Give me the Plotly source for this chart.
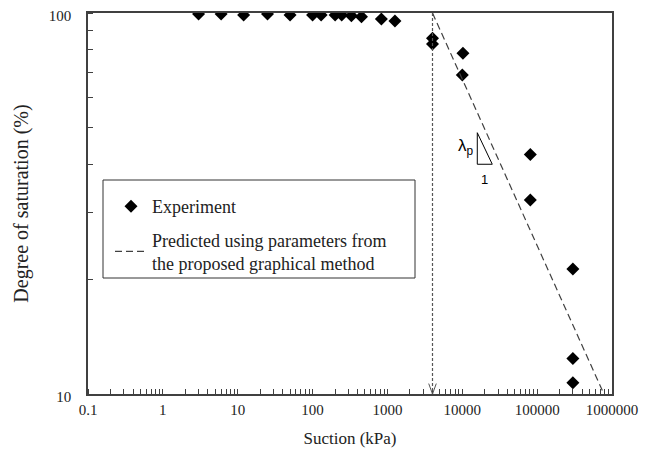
import math
import plotly.graph_objects as go

# ---- data ----
exp_suction = [3, 6, 12, 25, 50, 100, 130, 200, 245, 330, 450, 830, 1260,
               4000, 4000, 10200, 10000, 81000, 81000, 300000, 300000, 300000]
exp_saturation = [99.4, 99.4, 98.8, 99.4, 98.8, 98.8, 98.8, 98.8, 98.8, 98.4, 97.8, 96.4, 95.3,
                  85.8, 82.9, 78.4, 68.7, 42.5, 32.3, 21.3, 12.4, 10.7]
pred_suction = [4000, 780000]
pred_saturation = [100, 10]
aev = 4000
x_tickvals = [0.1, 1, 10, 100, 1000, 10000, 100000, 1000000]
x_ticktext = ["0.1", "1", "10", "100", "1000", "10000", "100000", "1000000"]
y_tickvals = [10, 100]
y_ticktext = ["10", "100"]

serif = "Liberation Serif"
frame = "#404040"
# page body has an 8px default margin, so the figure is sized to compensate
OFF = 8
W, H = 660 - OFF, 456 - OFF
PL, PR, PT, PB = 88, 612, 13, 394          # plot box in window pixels
ML, MT = PL - OFF, PT - OFF
MR, MB = W - (PR - OFF), H - (PB - OFF)
PW, PH = PR - PL, PB - PT


def px_x(px):
    return (px - PL) / PW


def px_y(py):
    return (PB - py) / PH


fig = go.Figure()
fig.add_trace(go.Scatter(
    x=exp_suction, y=exp_saturation, mode="markers", name="Experiment",
    marker=dict(symbol="diamond", size=10, color="black"),
    legendgroup="a"))
fig.add_trace(go.Scatter(
    x=pred_suction, y=pred_saturation, mode="lines",
    name="Predicted using parameters from<br>the proposed graphical method",
    line=dict(color="#404040", width=1.2, dash="7px,4px"),
    legendgroup="b"))

# dotted vertical line at air-entry value with open arrow head
fig.add_shape(type="line", xref="x", yref="y", x0=aev, x1=aev, y0=100, y1=10,
              line=dict(color="#555555", width=1.2, dash="3px,2px"))
fig.add_shape(type="path", xref="x", yref="y",
              path=f"M {aev*0.89},{10.65} L {aev},{10.0} L {aev/0.89},{10.65}",
              line=dict(color="#555555", width=1))

# slope triangle (path uses data values)
tx0, tx1 = 10 ** 4.2005, 10 ** 4.4007
ty0, ty1 = 10 ** 1.6858, 10 ** 1.603
fig.add_shape(type="path", xref="x", yref="y",
              path=f"M {tx0},{ty0} L {tx0},{ty1} L {tx1},{ty1} Z",
              line=dict(color="black", width=1))
fig.add_annotation(x=math.log10(tx0) - 0.02, y=(math.log10(ty0) + math.log10(ty1)) / 2 + 0.004,
                   xref="x", yref="y",
                   text="λ<sub>p</sub>", showarrow=False, xanchor="right",
                   font=dict(family="Liberation Sans", size=17, color="black"))
fig.add_annotation(x=(math.log10(tx0) + math.log10(tx1)) / 2, y=math.log10(ty1) - 0.04,
                   xref="x", yref="y",
                   text="1", showarrow=False,
                   font=dict(family="Liberation Sans", size=13, color="black"))

# legend frame
fig.add_shape(type="rect", xref="paper", yref="paper",
              x0=px_x(103), x1=px_x(415), y0=px_y(278), y1=px_y(180),
              line=dict(color="#333", width=1), fillcolor="white", layer="below")

fig.update_xaxes(type="log", range=[-1, 6], tickvals=x_tickvals, ticktext=x_ticktext,
                 showline=True, linecolor=frame, linewidth=1.5, mirror=True,
                 ticks="", showgrid=False, zeroline=False, automargin=False,
                 ticklabelstandoff=1, ticklabeloverflow="allow",
                 minor=dict(ticks="inside", ticklen=5, tickcolor=frame, dtick="D1", showgrid=False),
                 title=dict(text="Suction (kPa)", font=dict(family=serif, size=17, color="#222")),
                 tickfont=dict(family=serif, size=15, color="#222"))
fig.update_yaxes(type="log", range=[1, 2], tickvals=y_tickvals, ticktext=y_ticktext,
                 showline=True, linecolor=frame, linewidth=1.5, mirror=True,
                 ticks="", showgrid=False, zeroline=False, automargin=False,
                 ticklabelstandoff=12, ticklabeloverflow="allow", ticklabelshift=3,
                 minor=dict(ticks="inside", ticklen=5, tickcolor=frame, dtick="D1", showgrid=False),
                 title=dict(text="Degree of saturation (%)", font=dict(family=serif, size=20, color="#222")),
                 tickfont=dict(family=serif, size=15, color="#222"))

fig.update_layout(
    width=W, height=H,
    margin=dict(l=ML, r=MR, t=MT, b=MB),
    font=dict(family=serif, color="#222"),
    paper_bgcolor="white", plot_bgcolor="white",
    legend=dict(x=px_x(110), y=px_y(188), xanchor="left", yanchor="top",
                borderwidth=0, bgcolor="rgba(0,0,0,0)",
                font=dict(family=serif, size=18, color="#222"),
                tracegroupgap=7, itemwidth=32),
)

fig.write_html("out.html")
